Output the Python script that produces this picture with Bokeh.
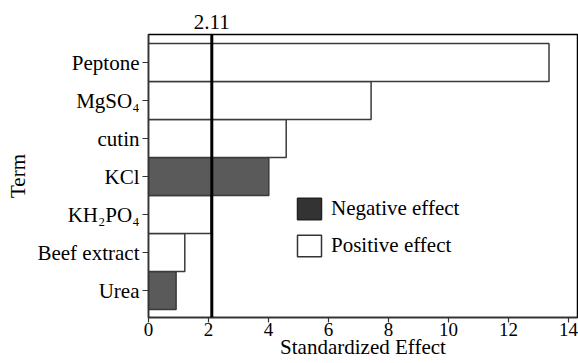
from bokeh.plotting import figure
from bokeh.models import (Range1d, FixedTicker, LinearAxis, Span, ColumnDataSource,
                          Legend, LegendItem)
from bokeh.embed import file_html
from bokeh.resources import INLINE

terms = ["Urea", "Beef extract", "KH\u2082PO\u2084", "KCl", "cutin", "MgSO\u2084", "Peptone"]
effects = [0.92, 1.21, 2.09, 4.01, 4.59, 7.42, 13.35]
signs = ["neg", "pos", "pos", "neg", "pos", "pos", "pos"]
threshold = 2.11
x_ticks = [0, 2, 4, 6, 8, 10, 12, 14]

FONT = "Liberation Serif"
FS = "21px"

pos_idx = list(range(1, len(terms) + 1))
fills = ["#5a5a5a" if s == "neg" else "#ffffff" for s in signs]

src = ColumnDataSource(dict(y=pos_idx, right=effects, fill=fills))

p = figure(width=578, height=363, output_backend="svg", toolbar_location=None,
           x_range=Range1d(0, 14.3), y_range=Range1d(0.29, 7.74),
           min_border_left=148, min_border_right=1, min_border_top=34, min_border_bottom=46)

p.hbar(y="y", left=0, right="right", height=1.0, source=src, fill_color="fill",
       line_color="#3a3a3a", line_width=1.5)

p.add_layout(Span(location=threshold, dimension="height", line_color="black", line_width=3))

neg_r = p.rect(x=[-100], y=[-100], width=1, height=1, fill_color="#333333", line_color="#222222", line_width=1.5)
pos_r = p.rect(x=[-100], y=[-100], width=1, height=1, fill_color="#ffffff", line_color="#333333", line_width=1.5)
legend = Legend(items=[LegendItem(label="Negative effect", renderers=[neg_r]),
                       LegendItem(label="Positive effect", renderers=[pos_r])],
                location=(146, 58), padding=0, margin=0, spacing=10,
                glyph_width=30, glyph_height=27, label_height=27, label_standoff=7,
                border_line_color=None, background_fill_alpha=0,
                label_text_font=FONT, label_text_font_size=FS, label_text_color="black")
p.add_layout(legend, "center")

p.xgrid.visible = False
p.ygrid.visible = False
p.outline_line_color = "black"
p.outline_line_width = 1.5

xa = p.xaxis[0]
xa.ticker = FixedTicker(ticks=x_ticks)
xa.axis_label = "Standardized Effect"
ya = p.yaxis[0]
ya.ticker = FixedTicker(ticks=pos_idx)
ya.major_label_overrides = {i: t for i, t in zip(pos_idx, terms)}
ya.axis_label = "Term"

for ax in (xa, ya):
    ax.minor_tick_line_color = None
    ax.major_tick_out = 6
    ax.major_tick_in = 0
    ax.axis_line_color = "#333333"
    ax.axis_line_width = 1.5
    ax.major_tick_line_color = "#333333"
    ax.major_tick_line_width = 1.2
    ax.major_label_text_font = FONT
    ax.major_label_text_font_size = FS
    ax.major_label_text_color = "black"
    ax.axis_label_text_font = FONT
    ax.axis_label_text_font_size = FS
    ax.axis_label_text_font_style = "normal"
    ax.axis_label_text_color = "black"
xa.major_label_text_font_size = "19px"
xa.major_tick_out = 5
xa.major_label_standoff = 0
xa.axis_label_standoff = -4
ya.major_label_standoff = 3
ya.axis_label_standoff = 4

top = LinearAxis(ticker=FixedTicker(ticks=[threshold]), axis_line_color=None,
                 major_tick_line_color=None, minor_tick_line_color=None,
                 major_label_text_font=FONT, major_label_text_font_size=FS,
                 major_label_text_color="black", major_label_standoff=0)
p.add_layout(top, "above")

open("out.html", "w").write(file_html(p, INLINE))
